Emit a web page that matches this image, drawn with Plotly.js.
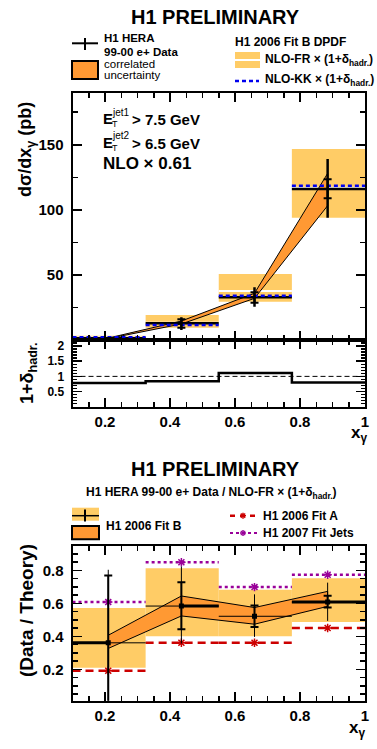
<!DOCTYPE html>
<html><head><meta charset="utf-8">
<script src="https://cdn.plot.ly/plotly-3.0.1.min.js"></script>
<style>html,body{margin:0;padding:0;background:#fff}</style>
</head><body><div id="chart" style="width:377px;height:749px"></div>
<script>
// ---------- data ----------
const binEdges = [0.1, 0.325, 0.55, 0.775, 1.0];
const xPoints = [0.21, 0.435, 0.66, 0.885];
const xTickVals = [0.2, 0.4, 0.6, 0.8, 1.0];
const xTickText = ['0.2', '0.4', '0.6', '0.8', '1'];

// top panel: dσ/dxγ (pb)
const dataXsec = [1.3, 12.8, 32.8, 116];
const dataXsecStatUp = [0.3, 3.1, 3.8, 7.5];
const dataXsecStatDn = [0.3, 3.3, 4.1, 7.1];
const dataXsecTotUp = [0.5, 4.6, 7.7, 23];
const dataXsecTotDn = [0.5, 5.1, 7.2, 22];
const corrBandUp = [1.5, 14.6, 35.9, 128];
const corrBandDn = [1.1, 12.3, 32.0, 103.2];
const nloFrHigh = [3.3, 19.2, 50.7, 146.7];
const nloFrLow = [0.8, 9.5, 29.4, 94];
const nloFrCentral = [1.9, 13.3, 37.6, 117];
const nloKk = [2.1, 11.5, 34.0, 118.5];
const topYTickVals = [50, 100, 150];
const topYTickText = ['50', '100', '150'];

// hadronisation correction 1+δhadr.
const hadrCorr = [0.78, 0.84, 1.11, 0.80];
const hadrTickVals = [0.5, 1, 1.5, 2];
const hadrTickText = ['0.5', '1', '1.5', '2'];

// bottom panel: Data / Theory
const ratio = [0.361, 0.584, 0.522, 0.608];
const ratioStatUp = [0.409, 0.145, 0.065, 0.039];
const ratioStatDn = [0.41, 0.141, 0.065, 0.033];
const ratioTotUp = [0.443, 0.24, 0.133, 0.118];
const ratioTotDn = [0.47, 0.227, 0.125, 0.114];
const ratioCorrUp = [0.407, 0.645, 0.575, 0.673];
const ratioCorrDn = [0.327, 0.524, 0.474, 0.582];
const fitBHigh = [0.572, 0.814, 0.683, 0.753];
const fitBLow = [0.21, 0.401, 0.401, 0.488];
const fitA = [0.192, 0.361, 0.361, 0.451];
const fitJets = [0.608, 0.85, 0.699, 0.774];
const ratioThickPart = ['left', 'right', 'none', 'full'];
const ratioYTickVals = [0.2, 0.4, 0.6, 0.8];
const ratioYTickText = ['0.2', '0.4', '0.6', '0.8'];

// ---------- helpers ----------
const W = 377, H = 749;
const px = x => x / W;
const py = y => 1 - y / H;
const LIGHT = '#FFCC66', ORANGE = '#FF9933';
const RED = '#CC0000', PURPLE = '#990099', BLUE = '#0000EE';
const FONT = 'Liberation Sans, Arial, sans-serif';
const centers = binEdges.slice(0, -1).map((e, i) => (e + binEdges[i + 1]) / 2);
const widths = binEdges.slice(0, -1).map((e, i) => binEdges[i + 1] - e);

function segs(vals) {
  const x = [], y = [];
  vals.forEach((v, i) => { x.push(binEdges[i], binEdges[i + 1], null); y.push(v, v, null); });
  return { x, y };
}
function band(up, dn) {
  return { x: xPoints.concat(xPoints.slice().reverse()), y: up.concat(dn.slice().reverse()) };
}

const traces = [];
// ----- top panel -----
traces.push({ type: 'bar', x: centers, width: widths, base: nloFrLow,
  y: nloFrHigh.map((h, i) => h - nloFrLow[i]), marker: { color: LIGHT, line: { width: 0 } },
  xaxis: 'x', yaxis: 'y', hoverinfo: 'skip' });
let s = segs(nloFrCentral);
traces.push({ type: 'scatter', mode: 'lines', x: s.x, y: s.y, line: { color: '#fff', width: 2 }, xaxis: 'x', yaxis: 'y' });
let b = band(corrBandUp, corrBandDn);
traces.push({ type: 'scatter', mode: 'lines', x: b.x, y: b.y, fill: 'toself', fillcolor: ORANGE,
  line: { color: '#000', width: 1 }, xaxis: 'x', yaxis: 'y' });
s = segs(dataXsec);
traces.push({ type: 'scatter', mode: 'lines', x: s.x, y: s.y, line: { color: '#000', width: 2.5 }, xaxis: 'x', yaxis: 'y' });
s = segs(nloKk);
traces.push({ type: 'scatter', mode: 'lines', x: s.x, y: s.y, line: { color: BLUE, width: 2.5, dash: '4px,3px' }, xaxis: 'x', yaxis: 'y' });
traces.push({ type: 'scatter', mode: 'markers', x: xPoints, y: dataXsec, marker: { size: 2, color: '#000' },
  error_y: { type: 'data', symmetric: false, array: dataXsecTotUp, arrayminus: dataXsecTotDn, thickness: 2.5, width: 0, color: '#000' },
  xaxis: 'x', yaxis: 'y' });
traces.push({ type: 'scatter', mode: 'markers', x: xPoints, y: dataXsec, marker: { size: 1, color: '#000' },
  error_y: { type: 'data', symmetric: false, array: dataXsecStatUp, arrayminus: dataXsecStatDn, thickness: 2, width: 4, color: '#000' },
  xaxis: 'x', yaxis: 'y' });

// ----- hadronisation panel -----
traces.push({ type: 'scatter', mode: 'lines', x: binEdges, y: hadrCorr.concat([hadrCorr[hadrCorr.length - 1]]),
  line: { shape: 'hv', color: '#000', width: 2.5 }, xaxis: 'x2', yaxis: 'y2' });

// ----- bottom panel -----
traces.push({ type: 'bar', x: centers, width: widths, base: fitBLow,
  y: fitBHigh.map((h, i) => h - fitBLow[i]), marker: { color: LIGHT, line: { width: 0 } },
  xaxis: 'x3', yaxis: 'y3', hoverinfo: 'skip' });
b = band(ratioCorrUp, ratioCorrDn);
traces.push({ type: 'scatter', mode: 'lines', x: b.x, y: b.y, fill: 'toself', fillcolor: ORANGE,
  line: { color: '#000', width: 1 }, xaxis: 'x3', yaxis: 'y3' });
s = segs(fitA);
traces.push({ type: 'scatter', mode: 'lines', x: s.x, y: s.y, line: { color: RED, width: 2.5, dash: '8px,5px' }, xaxis: 'x3', yaxis: 'y3' });
traces.push({ type: 'scatter', mode: 'markers', x: xPoints, y: fitA, marker: { symbol: 'asterisk-open', size: 7, color: RED, line: { color: RED, width: 1.5 } }, xaxis: 'x3', yaxis: 'y3' });
s = segs(fitJets);
traces.push({ type: 'scatter', mode: 'lines', x: s.x, y: s.y, line: { color: PURPLE, width: 2.5, dash: 'dot' }, xaxis: 'x3', yaxis: 'y3' });
traces.push({ type: 'scatter', mode: 'markers', x: xPoints, y: fitJets, marker: { symbol: 'asterisk-open', size: 7, color: PURPLE, line: { color: PURPLE, width: 1.5 } }, xaxis: 'x3', yaxis: 'y3' });
s = segs(ratio);
traces.push({ type: 'scatter', mode: 'lines', x: s.x, y: s.y, line: { color: '#000', width: 1 }, xaxis: 'x3', yaxis: 'y3' });
{
  const x = [], y = [];
  ratioThickPart.forEach((p, i) => {
    if (p === 'left') { x.push(binEdges[i], xPoints[i], null); }
    else if (p === 'right') { x.push(xPoints[i], binEdges[i + 1], null); }
    else if (p === 'full') { x.push(binEdges[i], binEdges[i + 1], null); }
    else return;
    y.push(ratio[i], ratio[i], null);
  });
  traces.push({ type: 'scatter', mode: 'lines', x, y, line: { color: '#000', width: 3 }, xaxis: 'x3', yaxis: 'y3' });
}
traces.push({ type: 'scatter', mode: 'markers', x: xPoints, y: ratio, marker: { size: 1, color: '#000' },
  error_y: { type: 'data', symmetric: false, array: ratioTotUp, arrayminus: ratioTotDn, thickness: 1, width: 0, color: '#000' },
  xaxis: 'x3', yaxis: 'y3' });
traces.push({ type: 'scatter', mode: 'markers', x: xPoints, y: ratio, marker: { symbol: 'square', size: 5, color: '#000' },
  error_y: { type: 'data', symmetric: false, array: ratioStatUp, arrayminus: ratioStatDn, thickness: 2, width: 4, color: '#000' },
  xaxis: 'x3', yaxis: 'y3' });

// ---------- layout ----------
const tickFont = { family: FONT, size: 15, color: '#000', weight: 'bold' };
function ax(extra) {
  return Object.assign({
    showline: true, linewidth: 2, linecolor: '#000', mirror: 'allticks',
    ticks: 'inside', ticklen: 9, tickwidth: 1.5, tickcolor: '#000',
    showgrid: false, zeroline: false, fixedrange: true, automargin: false,
    tickfont: tickFont
  }, extra);
}
const xDom = [px(72.5), px(365)];
const layout = {
  width: W, height: H, margin: { l: 0, r: 0, t: 0, b: 0, pad: 0 },
  paper_bgcolor: '#fff', plot_bgcolor: '#fff', showlegend: false, barmode: 'overlay',
  xaxis: ax({ domain: xDom, range: [0.1, 1], anchor: 'y', showticklabels: false,
    tickmode: 'array', tickvals: xTickVals, minor: { ticks: 'inside', dtick: 0.05, tick0: 0, ticklen: 5, tickcolor: '#000' } }),
  yaxis: ax({ domain: [py(340), py(92.7)], range: [0, 190], anchor: 'x',
    tickmode: 'array', tickvals: topYTickVals, ticktext: topYTickText, ticklabelstandoff: 4,
    minor: { ticks: 'inside', dtick: 25, tick0: 0, ticklen: 5, tickcolor: '#000' } }),
  xaxis2: ax({ domain: xDom, range: [0.1, 1], anchor: 'y2',
    tickmode: 'array', tickvals: xTickVals, ticktext: xTickText,
    minor: { ticks: 'inside', dtick: 0.05, tick0: 0, ticklen: 5, tickcolor: '#000' } }),
  yaxis2: ax({ domain: [py(406.7), py(340)], range: [0, 2.2], anchor: 'x2',
    tickmode: 'array', tickvals: hadrTickVals, ticktext: hadrTickText, ticklabelstandoff: 4,
    tickfont: Object.assign({}, tickFont, { size: 12 }),
    minor: { ticks: 'inside', dtick: 0.1, tick0: 0, ticklen: 4, tickcolor: '#000' } }),
  xaxis3: ax({ domain: xDom, range: [0.1, 1], anchor: 'y3',
    tickmode: 'array', tickvals: xTickVals, ticktext: xTickText,
    minor: { ticks: 'inside', dtick: 0.05, tick0: 0, ticklen: 5, tickcolor: '#000' } }),
  yaxis3: ax({ domain: [py(700.7), py(545.7)], range: [0.01, 0.95], anchor: 'x3',
    tickmode: 'array', tickvals: ratioYTickVals, ticktext: ratioYTickText, ticklabelstandoff: 4,
    minor: { ticks: 'inside', dtick: 0.05, tick0: 0, ticklen: 5, tickcolor: '#000' } }),
  shapes: [], annotations: []
};

// reference line at 1 in hadronisation panel
layout.shapes.push({ type: 'line', xref: 'x2 domain', yref: 'y2', x0: 0, x1: 1, y0: 1, y1: 1, line: { color: '#000', width: 1, dash: '5px,3px' } });

function L(x0, y0, x1, y1, line) { layout.shapes.push({ type: 'line', xref: 'paper', yref: 'paper', x0: px(x0), y0: py(y0), x1: px(x1), y1: py(y1), line }); }
function R(x0, y0, x1, y1, fill, line) { layout.shapes.push({ type: 'rect', xref: 'paper', yref: 'paper', x0: px(x0), y0: py(y0), x1: px(x1), y1: py(y1), fillcolor: fill, line: line || { width: 0 } }); }
function T(text, x, y, size, opts) {
  layout.annotations.push(Object.assign({ text, xref: 'paper', yref: 'paper', x: px(x), y: py(y), showarrow: false,
    xanchor: 'left', yanchor: 'middle', borderpad: 0,
    font: { family: FONT, size, color: '#000', weight: 'bold' } }, opts || {}));
}
function star(x, y, color) {
  L(x - 3, y, x + 3, y, { color, width: 1.5 });
  L(x, y - 3, x, y + 3, { color, width: 1.5 });
  L(x - 2.2, y - 2.2, x + 2.2, y + 2.2, { color, width: 1.2 });
  L(x - 2.2, y + 2.2, x + 2.2, y - 2.2, { color, width: 1.2 });
}

// top legend
L(72, 43.3, 98, 43.3, { color: '#000', width: 2 });
L(85, 38, 85, 50, { color: '#000', width: 2 });
R(72, 61, 98, 79, ORANGE, { color: '#000', width: 2 });
R(235, 52, 260, 68, LIGHT);
L(235, 60, 260, 60, { color: '#fff', width: 2 });
L(235, 81, 259, 81, { color: BLUE, width: 2.5, dash: '4px,3px' });
T('H1 PRELIMINARY', 215, 17.5, 20, { xanchor: 'center' });
T('H1 HERA', 103, 38, 11.5);
T('99-00 e+ Data', 103, 52, 11.5);
T('correlated', 103, 64, 11, { font: { family: FONT, size: 11.5, color: '#000' } });
T('uncertainty', 103, 75, 11, { font: { family: FONT, size: 11.5, color: '#000' } });
T('H1 2006 Fit B DPDF', 234, 42, 12);
T('NLO-FR × (1+δ<sub>hadr.</sub>)', 264, 60, 12);
T('NLO-KK × (1+δ<sub>hadr.</sub>)', 264, 80, 12);

// top panel text
T('E', 102, 118, 15);
T('jet1', 111, 112, 10, { font: { family: FONT, size: 10, color: '#000' } });
T('T', 111, 124, 9, { font: { family: FONT, size: 9, color: '#000' } });
T('> 7.5 GeV', 131, 119, 15);
T('E', 102, 142, 15);
T('jet2', 111, 136, 10, { font: { family: FONT, size: 10, color: '#000' } });
T('T', 111, 148, 9, { font: { family: FONT, size: 9, color: '#000' } });
T('> 6.5 GeV', 131, 143, 15);
T('NLO × 0.61', 102, 164, 17);

// axis titles
T('dσ/dx<sub>γ</sub> (pb)', 27, 150, 18, { xanchor: 'center', textangle: -90 });
T('1+δ<sub>hadr.</sub>', 28, 373, 18, { xanchor: 'center', textangle: -90 });
T('x<sub>γ</sub>', 350, 434, 17);
T('(Data / Theory)', 26, 611, 19, { xanchor: 'center', textangle: -90 });
T('x<sub>γ</sub>', 348, 729, 17);

// bottom header & legend
T('H1 PRELIMINARY', 215, 469, 20, { xanchor: 'center' });
T('H1 HERA 99-00 e+ Data / NLO-FR × (1+δ<sub>hadr.</sub>)', 85, 493, 12);
R(72, 507.7, 99, 520.7, LIGHT);
L(72, 515.7, 99, 515.7, { color: '#000', width: 1.5 });
L(85, 509.5, 85, 521.5, { color: '#000', width: 2 });
R(72, 526, 99, 539.3, ORANGE, { color: '#000', width: 2 });
T('H1 2006 Fit B', 105, 526, 12);
L(230, 515.7, 257, 515.7, { color: RED, width: 2.5, dash: '5px,5px' });
star(243, 515.7, RED);
T('H1 2006 Fit A', 262, 515.5, 12);
L(230, 533, 257, 533, { color: PURPLE, width: 2, dash: 'dot' });
star(243, 533, PURPLE);
T('H1 2007 Fit Jets', 262, 533, 12);

Plotly.newPlot('chart', traces, layout, { staticPlot: true, displayModeBar: false });
</script></body></html>
